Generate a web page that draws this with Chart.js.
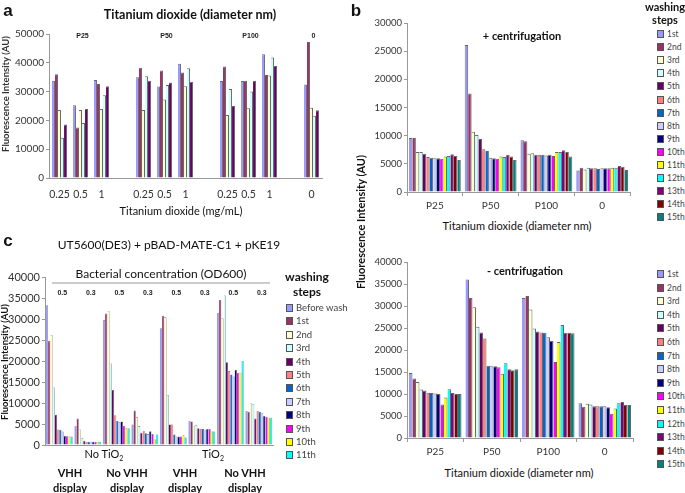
<!DOCTYPE html>
<html lang="en">
<head>
  <meta charset="UTF-8" />
  <title>TiO2 washing steps</title>
  <script src="https://cdn.jsdelivr.net/npm/chart.js"></script>
  <style>
    body { margin: 0; background: #fff; width: 685px; height: 493px; position: relative; overflow: hidden;
           font-family: Lato, "Liberation Sans", sans-serif; }
    .box { position: absolute; }
    .t { position: absolute; white-space: nowrap; transform: translate(-50%, -50%); color: #111; line-height: 1; }
    .rot { transform: translate(-50%, -50%) rotate(-90deg); }
    .leg { position: absolute; color: #444; white-space: nowrap; line-height: 1; }
    .leg i { display: inline-block; width: 5px; height: 6px; border: 0.5px solid #555; margin-right: 3px; vertical-align: -1px; }
  </style>
</head>
<body>
  <div class="box" style="left:0;top:0"><canvas id="chartA" width="330" height="200"></canvas></div>
  <div class="box" style="left:345px;top:0"><canvas id="chartB1" width="290" height="212"></canvas></div>
  <div class="box" style="left:345px;top:240px"><canvas id="chartB2" width="292" height="220"></canvas></div>
  <div class="box" style="left:0;top:230px"><canvas id="chartC" width="278" height="237"></canvas></div>
  <div id="texts"></div>

  <script>
    // washing step colours (Excel palette)
    const stepColors = ['#9999FF','#993366','#FFFFCC','#CCFFFF','#660066','#FF8080','#0066CC','#CCCCFF',
                        '#000080','#FF00FF','#FFFF00','#00FFFF','#800080','#800000','#008080'];
    const stepNames = ['1st','2nd','3rd','4th','5th','6th','7th','8th','9th','10th','11th','12th','13th','14th','15th'];

    // panel a
    const aLabels = ['0.25','0.5','1','','0.25','0.5','1','','0.25','0.5','1','','0'];
    const aGroups = ['P25','P50','P100','0'];
    const aGroupIdx = [1, 5, 9, 12];
    const a1st = [33800, 25300, 34000, null, 35000, 31800, 39700, null, 33700, 33700, 43000, null, 32500];
    const a2nd = [36000, 17500, 32600, null, 38300, 37300, 36600, null, 38700, 33800, 35800, null, 47200];
    const a3rd = [23600, 23600, 24000, null, 23600, 27300, 31900, null, 21900, 24200, 35600, null, 24400];
    const a4th = [14000, 19100, 28700, null, 35300, 32300, 38100, null, 30900, 30000, 41800, null, 21600];
    const a5th = [18600, 24000, 31900, null, 33800, 33200, 33400, null, 25000, 33800, 38900, null, 23500];

    // panel b (categories, then one array per diameter, 15 washing steps each)
    const bLabels = ['P25', 'P50', 'P100', '0'];
    const bPlusP25  = [9600, 9600, 7100, 7100, 6800, 6200, 6100, 6000, 6000, 5900, 6300, 6400, 6700, 6400, 5700];
    const bPlusP50  = [26100, 17500, 10700, 10100, 9400, 7600, 7300, 6100, 6000, 5900, 6300, 6200, 6600, 6300, 5700];
    const bPlusP100 = [9200, 9000, 6800, 6900, 6600, 6600, 6600, 6500, 6600, 6400, 7100, 7100, 7400, 7100, 6300];
    const bPlus0    = [3800, 4300, 4000, 4300, 4200, 4200, 4100, 4200, 4200, 4200, 4300, 4300, 4600, 4500, 3900];
    const bMinP25  = [14800, 13500, 12700, 11000, 10800, 10300, 10200, 10100, 10000, 7600, 9200, 11100, 10200, 10000, 10000];
    const bMinP50  = [36000, 31800, 29700, 25300, 24000, 22600, 16400, 16300, 16300, 16100, 14600, 17000, 15600, 15400, 15600];
    const bMinP100 = [31800, 32300, 29200, 24900, 24200, 24000, 23900, 22900, 22100, 17300, 21800, 25700, 23900, 23900, 23800];
    const bMin0    = [7900, 7100, 7800, 7600, 7200, 7200, 7200, 7200, 7000, 5500, 6700, 7900, 8200, 7500, 7500];

    // panel c (8 groups, 12 washing steps each)
    const cSteps = ['Before wash','1st','2nd','3rd','4th','5th','6th','7th','8th','9th','10th','11th'];
    const cOD = ['0.5','0.3','0.5','0.3','0.5','0.3','0.5','0.3'];
    const cG1 = [33300, 24800, 26200, 13700, 7200, 3700, 3650, 3200, 2150, 2100, 2000, 2000];
    const cG2 = [4600, 6300, 3700, 1700, 1000, 800, 800, 800, 800, 800, 800, 800];
    const cG3 = [29800, 31300, 31900, 19400, 13100, 7100, 5800, 5400, 5600, 4600, 4000, 4000];
    const cG4 = [4900, 8200, 6600, 4500, 2900, 3400, 2800, 2600, 3300, 2600, 1300, 2500];
    const cG5 = [27800, 30800, 30400, 11900, 4900, 4900, 2500, 2000, 2000, 2000, 2400, 1800];
    const cG6 = [5800, 5600, 4600, 4800, 4000, 3800, 3800, 3650, 3800, 3800, 3200, 3200];
    const cG7 = [31500, 34500, 30200, 35600, 19700, 17600, 16800, 16300, 17900, 17200, 17200, 20000];
    const cG8 = [8100, 7900, 9900, 9800, 6300, 8100, 7900, 7700, 6900, 6700, 6500, 6500];

    const tickFont = { family: 'Lato, "Liberation Sans", sans-serif' };

    function barDatasets(names, rows, colors, bw) {
      return names.map((n, i) => ({
        label: n,
        data: rows[i],
        backgroundColor: colors[i],
        borderColor: 'rgba(0,0,0,0.6)',
        borderWidth: { top: bw, right: bw, left: 0, bottom: 0 },
        borderSkipped: false
      }));
    }

    // rows = datasets by series, built from group arrays
    function transpose(groups) {
      return groups[0].map((_, i) => groups.map(g => g[i]));
    }

    function drawChart(id, labels, datasets, o) {
      new Chart(document.getElementById(id), {
        type: 'bar',
        data: { labels: labels, datasets: datasets },
        options: {
          responsive: false, animation: false, devicePixelRatio: 1,
          layout: { padding: { top: o.top, right: o.right, left: 0, bottom: 0 } },
          datasets: { bar: { categoryPercentage: o.cat, barPercentage: 1 } },
          plugins: { legend: { display: false }, tooltip: { enabled: false } },
          scales: {
            x: {
              grid: { display: o.xTicks, drawOnChartArea: false, offset: true, tickLength: 4, color: '#999' },
              border: { color: '#999' },
              ticks: { display: o.xLabels, autoSkip: false, maxRotation: 0, padding: o.xPad,
                       color: '#333', font: Object.assign({ size: o.xFont }, tickFont) },
              afterFit: s => { s.height = o.xh; }
            },
            y: {
              min: 0, max: o.max,
              grid: { drawOnChartArea: false, tickLength: 3, color: '#999' },
              border: { color: '#999' },
              ticks: { stepSize: 5000, padding: 2, color: '#333', callback: v => String(v),
                       font: Object.assign({ size: o.yFont }, tickFont) },
              afterFit: s => { s.width = o.yw; }
            }
          }
        },
        plugins: o.extra ? [o.extra] : []
      });
    }

    // a
    drawChart('chartA', aLabels, barDatasets(stepNames.slice(0, 5), [a1st, a2nd, a3rd, a4th, a5th], stepColors, 1),
      { top: 34, right: 8, cat: 0.72, max: 50000, xh: 22, yw: 49, xTicks: false, xLabels: true, xPad: 6, xFont: 10.5, yFont: 10,
        extra: { id: 'aGroups', afterDraw(chart) {
          const c = chart.ctx, x = chart.scales.x;
          c.save(); c.font = 'bold 7px "Liberation Sans", sans-serif'; c.fillStyle = '#222'; c.textAlign = 'center';
          aGroups.forEach((g, i) => c.fillText(g, x.getPixelForValue(aGroupIdx[i]) + 2, 38));
          c.restore();
        } } });

    // b
    drawChart('chartB1', bLabels, barDatasets(stepNames, transpose([bPlusP25, bPlusP50, bPlusP100, bPlus0]), stepColors, 1),
      { top: 23, right: 5, cat: 0.93, max: 30000, xh: 20, yw: 62, xTicks: true, xLabels: true, xPad: 4, xFont: 10, yFont: 9.5 });
    drawChart('chartB2', bLabels, barDatasets(stepNames, transpose([bMinP25, bMinP50, bMinP100, bMin0]), stepColors, 1),
      { top: 22, right: 4, cat: 0.93, max: 40000, xh: 22, yw: 62, xTicks: true, xLabels: true, xPad: 4, xFont: 10, yFont: 9.5 });

    // c
    drawChart('chartC', cOD, barDatasets(cSteps, transpose([cG1, cG2, cG3, cG4, cG5, cG6, cG7, cG8]), stepColors, 0.6),
      { top: 47, right: 5, cat: 0.94, max: 40000, xh: 22, yw: 45, xTicks: false, xLabels: false, xPad: 0, xFont: 9, yFont: 11,
        extra: { id: 'cOD', afterDraw(chart) {
          const c = chart.ctx, x = chart.scales.x;
          c.save(); c.font = 'bold 7px "Liberation Sans", sans-serif'; c.fillStyle = '#222'; c.textAlign = 'center';
          cOD.forEach((v, i) => c.fillText(v, x.getPixelForValue(i) + 3, 65));
          c.restore();
        } } });

    // texts
    const T = document.getElementById('texts');
    function txt(html, x, y, style, cls) {
      const d = document.createElement('div');
      d.className = 't' + (cls ? ' ' + cls : '');
      d.style.cssText = 'left:' + x + 'px;top:' + y + 'px;' + (style || '');
      d.innerHTML = html;
      T.appendChild(d);
    }
    const bold = 'font-family:"Liberation Sans",sans-serif;font-weight:bold;';
    txt('a', 8, 10, bold + 'font-size:17px;');
    txt('b', 356, 10, bold + 'font-size:17px;');
    txt('c', 8, 240, bold + 'font-size:17px;');

    txt('Titanium dioxide (diameter nm)', 190, 15, 'font-size:12.5px;font-weight:bold;');
    txt('Titanium dioxide (mg/mL)', 181, 210, 'font-size:11px;');
    txt('Fluorescence Intensity (AU)', 6, 94, 'font-size:9.5px;font-weight:bold;color:#333;', 'rot');

    txt('+ centrifugation', 522, 35, 'font-size:11px;font-weight:bold;');
    txt('Titanium dioxide (diameter nm)', 517, 225, 'font-size:11px;');
    txt('- centrifugation', 525, 270, 'font-size:11px;font-weight:bold;');
    txt('Titanium dioxide (diameter nm)', 519, 472, 'font-size:11px;');
    txt('Fluorescence Intensity (AU)', 360, 222, 'font-size:11px;font-weight:bold;', 'rot');
    txt('washing', 665, 6, 'font-size:11px;font-weight:bold;');
    txt('steps', 665, 19, 'font-size:11px;font-weight:bold;');

    txt('UT5600(DE3) + pBAD-MATE-C1 + pKE19', 169, 245, 'font-size:12px;');
    txt('Bacterial concentration (OD600)', 161, 274, 'font-size:12px;');
    txt('<span style="display:block;width:218px;height:1px;background:#999"></span>', 161, 283);
    txt('Fluorescence Intensity (AU)', 5, 362, 'font-size:9.5px;font-weight:bold;', 'rot');
    txt('washing', 307, 277, 'font-size:12px;font-weight:bold;');
    txt('steps', 307, 292, 'font-size:12px;font-weight:bold;');
    txt('No TiO<sub style="font-size:7px">2</sub>', 104, 455, 'font-size:11px;');
    txt('TiO<sub style="font-size:7px">2</sub>', 213, 455, 'font-size:11px;');
    [['VHH', 70], ['No VHH', 127], ['VHH', 185], ['No VHH', 245]].forEach(p => {
      txt(p[0], p[1], 472, 'font-size:11px;font-weight:bold;');
      txt('display', p[1], 487, 'font-size:11px;font-weight:bold;');
    });

    function legend(names, x, y0, step, size) {
      names.forEach((n, i) => {
        const d = document.createElement('div');
        d.className = 'leg';
        d.style.cssText = 'left:' + x + 'px;top:' + (y0 + i * step - 4) + 'px;font-size:' + size + 'px;';
        d.innerHTML = '<i style="background:' + stepColors[i] + '"></i>' + n;
        T.appendChild(d);
      });
    }
    legend(stepNames, 657, 34, 13.1, 8.5);
    legend(stepNames, 657, 274, 13.6, 8.5);
    legend(cSteps, 286, 307, 13.4, 9.5);
  </script>
</body>
</html>
